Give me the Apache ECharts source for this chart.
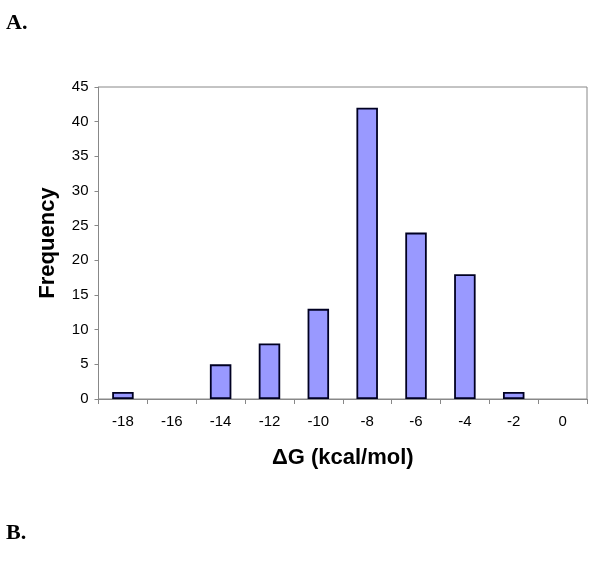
<!DOCTYPE html>
<html><head><meta charset="utf-8">
<script src="https://cdn.jsdelivr.net/npm/echarts@6/dist/echarts.min.js"></script>
<style>html,body{margin:0;padding:0;background:#fff}#c{width:601px;height:569px}</style>
</head><body><div id="c"></div>
<script>
const categories = ['-18','-16','-14','-12','-10','-8','-6','-4','-2','0'];
const frequency = [1, 0, 5, 8, 13, 42, 24, 18, 1, 0];
const yTicks = [0, 5, 10, 15, 20, 25, 30, 35, 40, 45];

const chart = echarts.init(document.getElementById('c'), null, {renderer: 'canvas'});
chart.setOption({
  animation: false,
  backgroundColor: '#fff',
  grid: {left: 98.5, top: 87, right: 14, bottom: 170, show: true, borderColor: '#888', borderWidth: 1, containLabel: false},
  graphic: [
    {type: 'text', left: 6, top: 12, style: {text: 'A.', font: 'bold 22px "Liberation Serif", serif', fill: '#000'}},
    {type: 'text', left: 6, top: 522, style: {text: 'B.', font: 'bold 22px "Liberation Serif", serif', fill: '#000'}}
  ],
  xAxis: {
    type: 'category',
    data: categories,
    boundaryGap: true,
    name: 'ΔG (kcal/mol)',
    nameLocation: 'middle',
    nameGap: 48,
    nameTextStyle: {fontFamily: 'Liberation Sans, Arial', fontWeight: 'bold', fontSize: 22, color: '#000'},
    axisLine: {lineStyle: {color: '#888', width: 1}},
    axisTick: {show: true, length: 5, lineStyle: {color: '#888'}, alignWithLabel: false},
    axisLabel: {margin: 15, fontFamily: 'Liberation Sans, Arial', fontSize: 15, color: '#000'},
    splitLine: {show: false}
  },
  yAxis: {
    type: 'value',
    min: 0, max: 45, interval: 5,
    name: 'Frequency',
    nameLocation: 'middle',
    nameGap: 40,
    nameTextStyle: {fontFamily: 'Liberation Sans, Arial', fontWeight: 'bold', fontSize: 22, color: '#000'},
    axisLine: {show: true, lineStyle: {color: '#888', width: 1}},
    axisTick: {show: true, length: 4, lineStyle: {color: '#888'}},
    axisLabel: {margin: 10, fontFamily: 'Liberation Sans, Arial', fontSize: 15, color: '#000',
      formatter: v => yTicks.includes(v) ? String(v) : ''},
    splitLine: {show: false}
  },
  series: [{
    type: 'bar',
    data: frequency.map(v => v === 0 ? '-' : v),
    barWidth: '44%',
    itemStyle: {color: '#9999ff', borderColor: '#000022', borderWidth: 1.8}
  }]
});
</script></body></html>
